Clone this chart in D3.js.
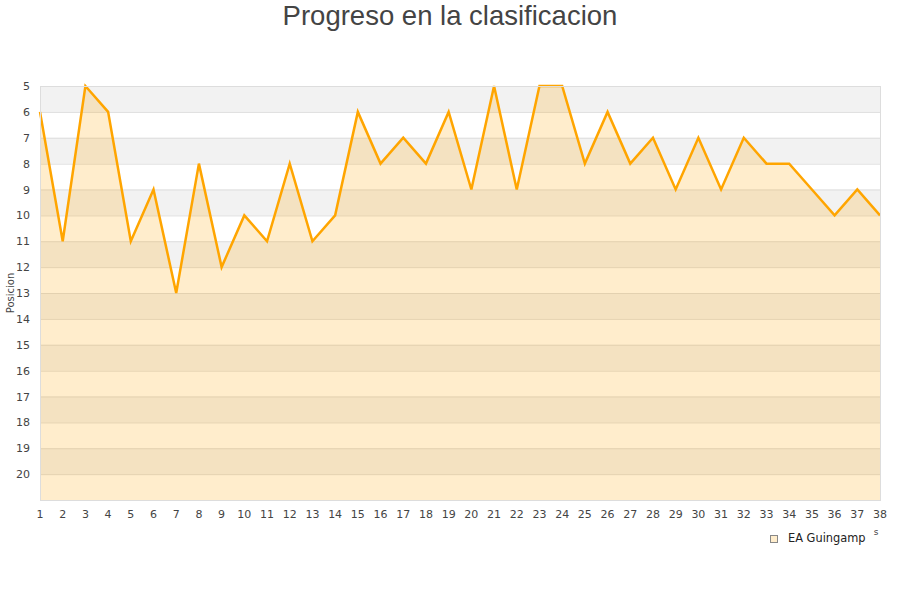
<!DOCTYPE html>
<html>
<head>
<meta charset="utf-8">
<script src="https://cdn.jsdelivr.net/npm/d3@7"></script>
<style>
body { margin: 0; background: #fff; }
text { font-family: "DejaVu Sans", sans-serif; }
</style>
</head>
<body>
<script>
// data
var jornadas = d3.range(1, 39);
var posiciones = [6, 11, 5, 6, 11, 9, 13, 8, 12, 10, 11, 8, 11, 10, 6, 8, 7, 8, 6, 9,
                  5, 9, 5, 5, 8, 6, 8, 7, 9, 7, 9, 7, 8, 8, 9, 10, 9, 10];
var posTicks = d3.range(5, 21);
var equipo = "EA Guingamp";

var width = 900, height = 600;
var margin = {top: 86, right: 20, bottom: 100, left: 40};

var svg = d3.select("body").append("svg")
    .attr("width", width)
    .attr("height", height);

var x = d3.scaleLinear()
    .domain([1, 38])
    .range([margin.left, width - margin.right]);
var y = d3.scaleLinear()
    .domain([5, 21])
    .range([margin.top, height - margin.bottom]);

// alternating bands
svg.append("g").selectAll("rect")
    .data(d3.range(5, 21))
    .enter().append("rect")
    .attr("x", x(1))
    .attr("y", function(d) { return y(d); })
    .attr("width", x(38) - x(1))
    .attr("height", function(d) { return y(d + 1) - y(d); })
    .attr("fill", function(d) { return (d - 5) % 2 === 0 ? "#f2f2f2" : "#ffffff"; });

// grid lines
svg.append("g").selectAll("line")
    .data(posTicks)
    .enter().append("line")
    .attr("x1", x(1)).attr("x2", x(38))
    .attr("y1", function(d) { return y(d) + 0.5; })
    .attr("y2", function(d) { return y(d) + 0.5; })
    .attr("stroke", "#dddddd");

// area + line
var area = d3.area()
    .x(function(d, i) { return x(jornadas[i]); })
    .y0(y(21))
    .y1(function(d) { return y(d); });
var line = d3.line()
    .x(function(d, i) { return x(jornadas[i]); })
    .y(function(d) { return y(d); });

svg.append("path")
    .datum(posiciones)
    .attr("d", area)
    .attr("fill", "rgba(255,165,0,0.2)");

svg.append("path")
    .datum(posiciones)
    .attr("d", line)
    .attr("fill", "none")
    .attr("stroke", "#ffa500")
    .attr("stroke-width", 2.5);

// plot border
svg.append("rect")
    .attr("x", x(1) + 0.5).attr("y", y(5) + 0.5)
    .attr("width", x(38) - x(1)).attr("height", y(21) - y(5))
    .attr("fill", "none")
    .attr("stroke", "#dddddd");

// y axis labels
svg.append("g").selectAll("text")
    .data(posTicks)
    .enter().append("text")
    .attr("x", 30)
    .attr("y", function(d) { return y(d) + 4; })
    .attr("text-anchor", "end")
    .attr("font-size", 11)
    .attr("fill", "#444")
    .text(function(d) { return d; });

// x axis labels
svg.append("g").selectAll("text")
    .data(jornadas)
    .enter().append("text")
    .attr("x", function(d) { return x(d); })
    .attr("y", 518)
    .attr("text-anchor", "middle")
    .attr("font-size", 11)
    .attr("fill", "#444")
    .text(function(d) { return d; });

// axis titles
svg.append("text")
    .attr("transform", "translate(14," + ((y(5) + y(21)) / 2) + ") rotate(-90)")
    .attr("text-anchor", "middle")
    .attr("font-size", 10)
    .attr("fill", "#444")
    .text("Posicion");

// what remains visible of the x title behind the legend
svg.append("text")
    .attr("x", 876)
    .attr("y", 535)
    .attr("text-anchor", "middle")
    .attr("font-size", 9)
    .attr("fill", "#444")
    .text("s");

// legend
var legend = svg.append("g");
legend.append("rect")
    .attr("x", 770.5).attr("y", 535.5)
    .attr("width", 7).attr("height", 7)
    .attr("fill", "#ffedcc")
    .attr("stroke", "#888");
legend.append("text")
    .attr("x", 788).attr("y", 542)
    .attr("font-size", 11.4)
    .attr("fill", "#222")
    .text(equipo);

// title
svg.append("text")
    .attr("x", width / 2)
    .attr("y", 25)
    .attr("text-anchor", "middle")
    .style("font-family", "'Liberation Sans', Arial, sans-serif")
    .attr("font-size", 27.5)
    .attr("fill", "#444")
    .text("Progreso en la clasificacion");
</script>
</body>
</html>
